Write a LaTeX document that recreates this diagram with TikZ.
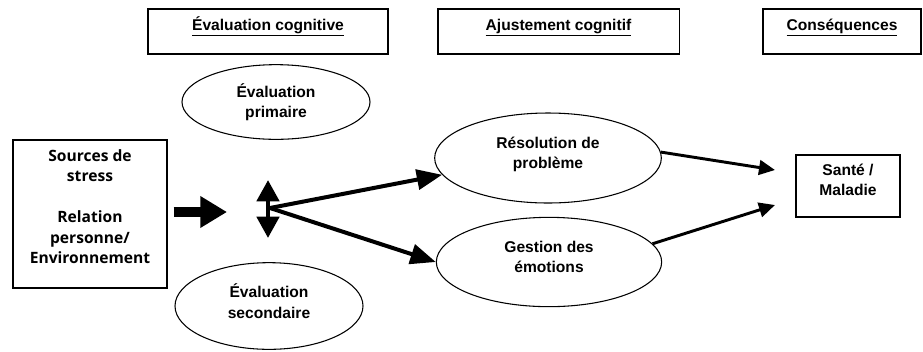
\documentclass[tikz,border=0pt]{standalone}
\usepackage{fontspec}
\setmainfont{Liberation Sans}
\newfontfamily\srcfont{Open Sans}
\usetikzlibrary{arrows.meta,shapes.geometric}

\tikzset{
    txt/.style={font=\bfseries\fontsize{11.7}{15.4}\selectfont, align=center},
    header/.style={txt, draw, line width=1pt, minimum height=33.75pt, inner sep=0pt,
        text height=9pt, text depth=11.2pt},
    bubble/.style={txt, ellipse, draw, line width=0.8pt, inner sep=0pt},
    box/.style={txt, draw, line width=1pt, inner sep=0pt},
    flow/.style={line width=3pt, -{Triangle[length=19pt,width=15pt]}},
    outflow/.style={line width=2.2pt, -{Triangle[length=12pt,width=11pt]}}
}

\begin{document}
\begin{tikzpicture}[x=0.75pt,y=-0.75pt]
    \useasboundingbox (0,0) rectangle (923,351);
    % column headers
    \node[header, minimum width=180pt] (hEval) at (268,31.5) {\underline{Évaluation cognitive}};
    \node[header, minimum width=181pt] (hAjust) at (558.5,31.5) {\underline{Ajustement cognitif}};
    \node[header, minimum width=118.5pt] (hCons) at (842,31.5) {\underline{Conséquences}};
    % boxes and ellipses
    \node[box, font=\srcfont\bfseries\fontsize{11.7}{15.4}\selectfont, minimum width=115.5pt, minimum height=111pt] (src) at (90,214)
        {Sources de\\stress\\[15.4pt]Relation\\personne/\\Environnement\\[-4.2pt]~};
    \node[bubble, minimum width=141pt, minimum height=56pt] (prim) at (276,102) {Évaluation\\primaire};
    \node[bubble, minimum width=141pt, minimum height=65pt] (sec) at (269,306) {Évaluation\\secondaire\\[-7.9pt]~};
    \node[bubble, minimum width=170pt, minimum height=67.5pt] (res) at (548,158) {Résolution de\\problème\\[-7.9pt]~};
    \node[bubble, minimum width=169pt, minimum height=67pt] (gest) at (549,262) {Gestion des\\émotions\\[-7.9pt]~};
    \node[box, minimum width=78pt, minimum height=46.5pt] (sante) at (848,186) {Santé /\\Maladie\\[-6.4pt]~};
    % free arrow ends
    \coordinate (stim) at (227,212);
    \coordinate (vtop) at (268,180);
    \coordinate (vbot) at (268,238);
    \coordinate (split) at (270,208);
    \coordinate (s1) at (775,170);
    \coordinate (s2) at (775,205);
    % arrows
    \draw[line width=7.5pt, shorten <=4.5pt, -{Triangle[length=20pt,width=22.5pt]}] (src.east |- stim) -- (stim);
    \draw[line width=3.5pt, {Triangle[length=16pt,width=16.5pt]}-{Triangle[length=16pt,width=16.5pt]}] (vbot) -- (vtop);
    \draw[flow] (split) -- (res.189);
    \draw[flow] (split) -- (gest.west);
    \draw[outflow] (res.3) -- (s1);
    \draw[outflow] (gest.10) -- (s2);
\end{tikzpicture}
\end{document}
